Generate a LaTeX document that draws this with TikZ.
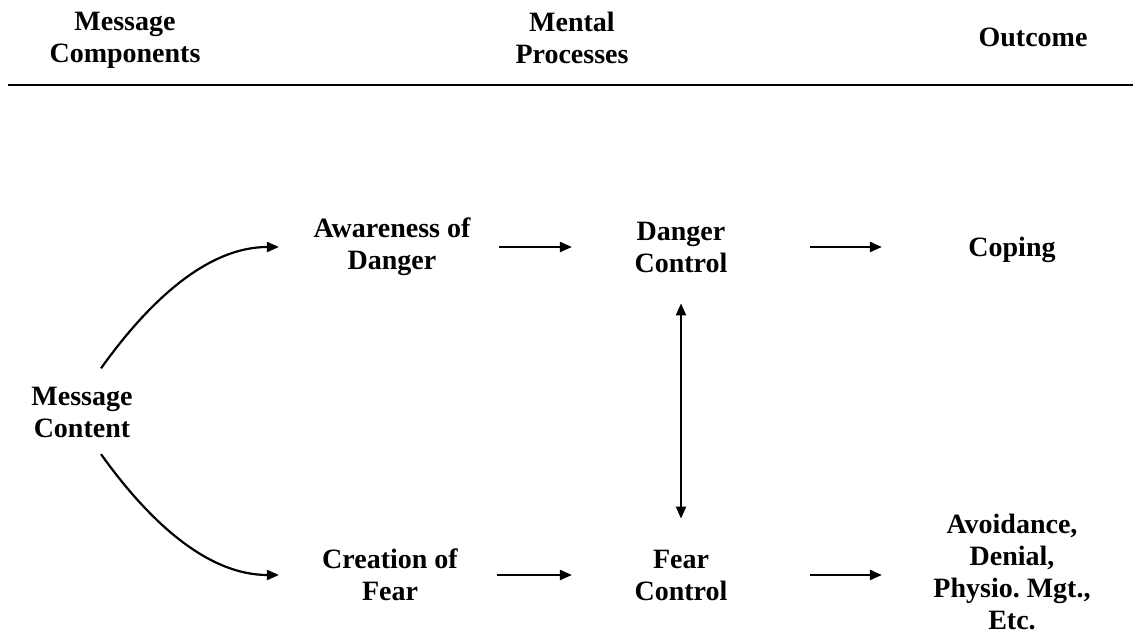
\documentclass[tikz,border=0pt]{standalone}
\usepackage{fontspec}
\setmainfont{Liberation Serif}
\usetikzlibrary{arrows.meta}

\tikzset{
  lbl/.style={font=\fontsize{28}{32}\selectfont\bfseries\frenchspacing, align=center, inner sep=0pt},
  lft/.style={lbl, minimum width=212pt},
  mid/.style={lbl, minimum width=216pt},
  rgt/.style={lbl, minimum width=258pt},
}

\begin{document}
\begin{tikzpicture}[x=1pt, y=1pt, >={Triangle[length=12pt,width=10pt]}, line width=2.2pt]
    \useasboundingbox (0,0) rectangle (1133,637);

    % Kopfzeile
    \node[lbl] (hmsg) at (125,596.25) {Message\\Components};
    \node[lbl] (hmental) at (572,598.9) {Mental\\Processes};
    \node[lbl] (hout) at (1033,599.8) {Outcome};
    \draw[line width=2.7pt] (8,552) -- (1133,552);

    % Knoten
    \node[lbl] (msg) at (82,224.25) {Message\\Content};
    \node[lft] (aware) at (392,390) {Awareness of\\Danger};
    \node[lft] (creat) at (390,62) {Creation of\\Fear};
    \node[mid] (dctrl) at (681,390) {Danger\\Control};
    \node[mid] (fctrl) at (681,62) {Fear\\Control};
    \node[rgt] (coping) at (1012,387) {Coping};
    \node[rgt] (outc) at (1012,65.4) {Avoidance,\\Denial,\\Physio. Mgt.,\\Etc.};

    % Bögen von der Botschaft
    \draw[->] ([xshift=19pt,yshift=18pt]msg.north) .. controls +(50,70) and +(-70,0) .. ([xshift=-6pt]aware.west);
    \draw[->] ([xshift=19pt,yshift=-15pt]msg.south) .. controls +(50,-70) and +(-70,0) .. ([xshift=-4pt]creat.west);

    % Pfeile
    \draw[->] (aware) -- (dctrl);
    \draw[->] (creat) -- (fctrl);
    \draw[->, shorten <=20pt] (dctrl.east) -- (dctrl.east -| coping.west);
    \draw[->, shorten <=20pt] (fctrl.east) -- (fctrl.east -| outc.west);
    \draw[<->, shorten <=30pt, shorten >=30pt] (dctrl.south) -- (fctrl.north);
\end{tikzpicture}
\end{document}
